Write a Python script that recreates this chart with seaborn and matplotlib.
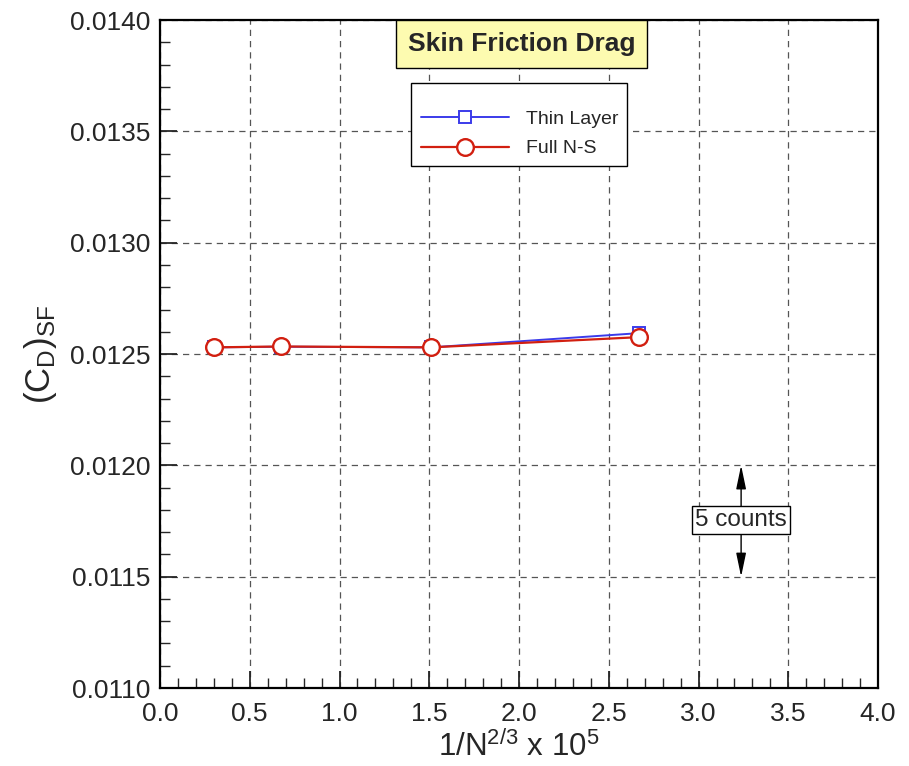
import matplotlib
matplotlib.use("Agg")
import matplotlib.pyplot as plt
import seaborn as sns
import pandas as pd
from matplotlib.patches import Rectangle
from matplotlib.ticker import MultipleLocator, FormatStrFormatter

# Data
x_vals = [0.30, 0.675, 1.51, 2.67]
thin_layer = [0.012530, 0.012533, 0.012530, 0.012594]
full_ns = [0.012530, 0.012534, 0.012530, 0.012576]
series_names = ["Thin Layer", "Full N-S"]

sns.set_style("white")
plt.rcParams['font.family'] = ['Liberation Sans', 'DejaVu Sans']
plt.rcParams['mathtext.fontset'] = 'custom'
plt.rcParams['mathtext.rm'] = 'Liberation Sans'
plt.rcParams['mathtext.it'] = 'Liberation Sans'

fig = plt.figure(figsize=(9.09, 7.66), dpi=100)
ax = fig.add_axes([0.176, 0.1018, 0.790, 0.872])

df_thin = pd.DataFrame({"x": x_vals, "y": thin_layer})
df_full = pd.DataFrame({"x": x_vals, "y": full_ns})

blue = "#3b3bea"
red = "#d21f10"
sns.lineplot(data=df_thin, x="x", y="y", ax=ax, color=blue, lw=1.4,
             marker="s", markersize=8, markerfacecolor="white",
             markeredgecolor=blue, markeredgewidth=1.4, label=series_names[0], zorder=3)
sns.lineplot(data=df_full, x="x", y="y", ax=ax, color=red, lw=1.6,
             marker="o", markersize=12, markerfacecolor="white",
             markeredgecolor=red, markeredgewidth=1.7, label=series_names[1], zorder=4)

ax.set_xlim(0, 4.0)
ax.set_ylim(0.0110, 0.0140)
ax.xaxis.set_major_locator(MultipleLocator(0.5))
ax.xaxis.set_minor_locator(MultipleLocator(0.1))
ax.yaxis.set_major_locator(MultipleLocator(0.0005))
ax.yaxis.set_minor_locator(MultipleLocator(0.0001))
ax.xaxis.set_major_formatter(FormatStrFormatter('%.1f'))
ax.yaxis.set_major_formatter(FormatStrFormatter('%.4f'))

ax.tick_params(axis='both', which='major', direction='in', length=12, width=1.3,
               labelsize=19, top=False, right=False, bottom=True, left=True)
ax.tick_params(axis='x', which='major', pad=10)
ax.tick_params(axis='y', which='major', pad=7)
ax.tick_params(axis='both', which='minor', direction='in', length=7, width=1.0,
               top=False, right=False, bottom=True, left=True)

ax.grid(True, which='major', linestyle=(0, (5, 4)), color='#555555', lw=0.9)
for s in ax.spines.values():
    s.set_color('black')
    s.set_linewidth(1.6)

ax.set_xlabel(r"1/N$^{2/3}$ x 10$^{5}$", fontsize=22.5, labelpad=4)
ax.set_ylabel(r"(C$_{\mathregular{D}}$)$_{\mathregular{SF}}$", fontsize=25, labelpad=8)

# Title box
ax.text(2.015, 0.013891, "Skin Friction Drag", ha='center', va='center', fontsize=19,
        fontweight='bold', zorder=6,
        bbox=dict(boxstyle='square,pad=0.45', facecolor='#fdfbb0', edgecolor='black', lw=1.0))

# Legend frame (drawn separately for asymmetric padding as in the reference)
ax.add_patch(Rectangle((0.3496, 0.7814), 0.3008, 0.1243, transform=ax.transAxes,
                       facecolor='white', edgecolor='black', lw=1.0, zorder=5.5))
leg = ax.legend(loc='upper left', bbox_to_anchor=(0.3635, 0.8653), borderaxespad=0,
                fontsize=14, frameon=False, handlelength=4.5, borderpad=0,
                labelspacing=0.62, handletextpad=0.9)
leg.set_zorder(6)

# 5 counts annotation
astyle = '-|>,head_length=0.72,head_width=0.15'
ax.annotate("", xy=(3.237, 0.01200), xytext=(3.237, 0.011755),
            arrowprops=dict(arrowstyle=astyle, color='black', lw=1.0, mutation_scale=20,
                            shrinkA=0, shrinkB=0), zorder=5)
ax.annotate("", xy=(3.237, 0.01150), xytext=(3.237, 0.011755),
            arrowprops=dict(arrowstyle=astyle, color='black', lw=1.0, mutation_scale=20,
                            shrinkA=0, shrinkB=0), zorder=5)
ax.text(3.237, 0.011755, "5 counts", ha='center', va='center', fontsize=17.5, zorder=7,
        bbox=dict(boxstyle='square,pad=0.12', facecolor='white', edgecolor='black', lw=1.0))

fig.savefig("out.png", dpi=100)
